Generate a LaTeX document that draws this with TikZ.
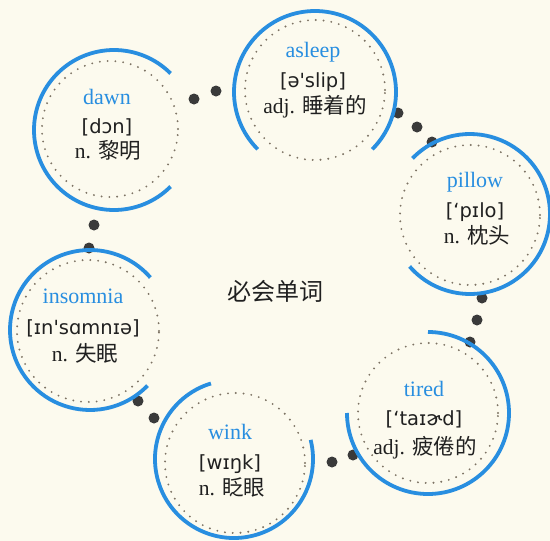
\documentclass[tikz,border=0pt]{standalone}
\usepackage{fontspec}
\setmainfont{Liberation Serif}
\newfontfamily\ipafont{DejaVu Sans}
\newfontfamily\cjkfont{Noto Sans CJK SC}
\definecolor{bgc}{RGB}{252,250,238}
\definecolor{ringblue}{RGB}{40,142,224}
\definecolor{dotdark}{RGB}{58,58,58}
\definecolor{dotgray}{RGB}{125,115,100}
\definecolor{inkc}{RGB}{32,32,32}
\newcommand\bluering[5]{\draw[ring] ([shift={(#3:#5)}]#1,#2) arc[start angle=#3, end angle=#4, radius=#5];}
\begin{document}
\begin{tikzpicture}[x=1pt,y=1pt,
  ring/.style={draw=ringblue, line width=3.8pt},
  dotring/.style={draw=dotgray, line width=2.1pt, line cap=round, dash pattern=on 0pt off 7.8pt},
  linkdot/.style={circle, fill=dotdark, inner sep=0pt, minimum size=11pt},
  word/.style={font=\fontsize{22}{24}\selectfont, text=ringblue, anchor=base},
  phon/.style={font=\ipafont\fontsize{19.5}{22}\selectfont, text=inkc, anchor=base},
  gloss/.style={font=\fontsize{21.5}{24}\selectfont, text=inkc, anchor=base},
  title/.style={font=\cjkfont\fontsize{24}{26}\selectfont, text=inkc}]
\fill[bgc] (0,0) rectangle (550,-541);
\useasboundingbox (0,0) rectangle (550,-541);

% link dots
\node[linkdot] (d1) at (194,-99) {};
\node[linkdot] (d2) at (216,-91) {};
\node[linkdot] (d3) at (398,-113) {};
\node[linkdot] (d4) at (417,-127) {};
\node[linkdot] (d5) at (432,-142) {};
\node[linkdot] (d6) at (482,-298) {};
\node[linkdot] (d7) at (477,-320) {};
\node[linkdot] (d8) at (470,-342) {};
\node[linkdot] (d9) at (353,-455) {};
\node[linkdot] (d10) at (332,-462) {};
\node[linkdot] (d11) at (154,-418) {};
\node[linkdot] (d12) at (138,-401) {};
\node[linkdot] (d13) at (89,-248) {};
\node[linkdot] (d14) at (94,-225) {};

% dotted inner circles
\draw[dotring] (315,-90) circle[radius=70];
\draw[dotring] (110,-129) circle[radius=68];
\draw[dotring] (470,-215) circle[radius=70];
\draw[dotring] (88,-331) circle[radius=71];
\draw[dotring] (428,-413) circle[radius=70];
\draw[dotring] (235,-463) circle[radius=70];

% blue arcs
\bluering{315}{-92}{-45}{225}{81}
\bluering{114}{-130}{45}{315}{80}
\bluering{470}{-214}{-139}{136}{80}
\bluering{90}{-330}{41}{316}{80}
\bluering{428}{-413}{180}{450}{81}
\bluering{234}{-459}{107}{374}{79}

% texts
\node[word] (w1) at (313,-57) {asleep};
\node[phon] (p1) at (313,-87) {[ə'slip]};
\node[gloss] (g1) at (315,-113) {adj. {\cjkfont 睡着的}};

\node[word] (w2) at (107,-104) {dawn};
\node[phon] (p2) at (107,-133) {[dɔn]};
\node[gloss] (g2) at (108,-158) {n. {\cjkfont 黎明}};

\node[word] (w3) at (475,-187) {pillow};
\node[phon] (p3) at (475,-217) {[‘pɪlo]};
\node[gloss] (g3) at (477,-243) {n. {\cjkfont 枕头}};

\node[word] (w4) at (83,-303) {insomnia};
\node[phon] (p4) at (83,-334) {[ɪn'sɑmnɪə]};
\node[gloss] (g4) at (85,-361) {n. {\cjkfont 失眠}};

\node[word] (w5) at (424,-396) {tired};
\node[phon] (p5) at (424,-425) {[‘taɪɚd]};
\node[gloss] (g5) at (425,-454) {adj. {\cjkfont 疲倦的}};

\node[word] (w6) at (230,-439) {wink};
\node[phon] (p6) at (230,-469) {[wɪŋk]};
\node[gloss] (g6) at (232,-495) {n. {\cjkfont 眨眼}};

\node[title] (t) at (275,-291) {必会单词};
\end{tikzpicture}
\end{document}
